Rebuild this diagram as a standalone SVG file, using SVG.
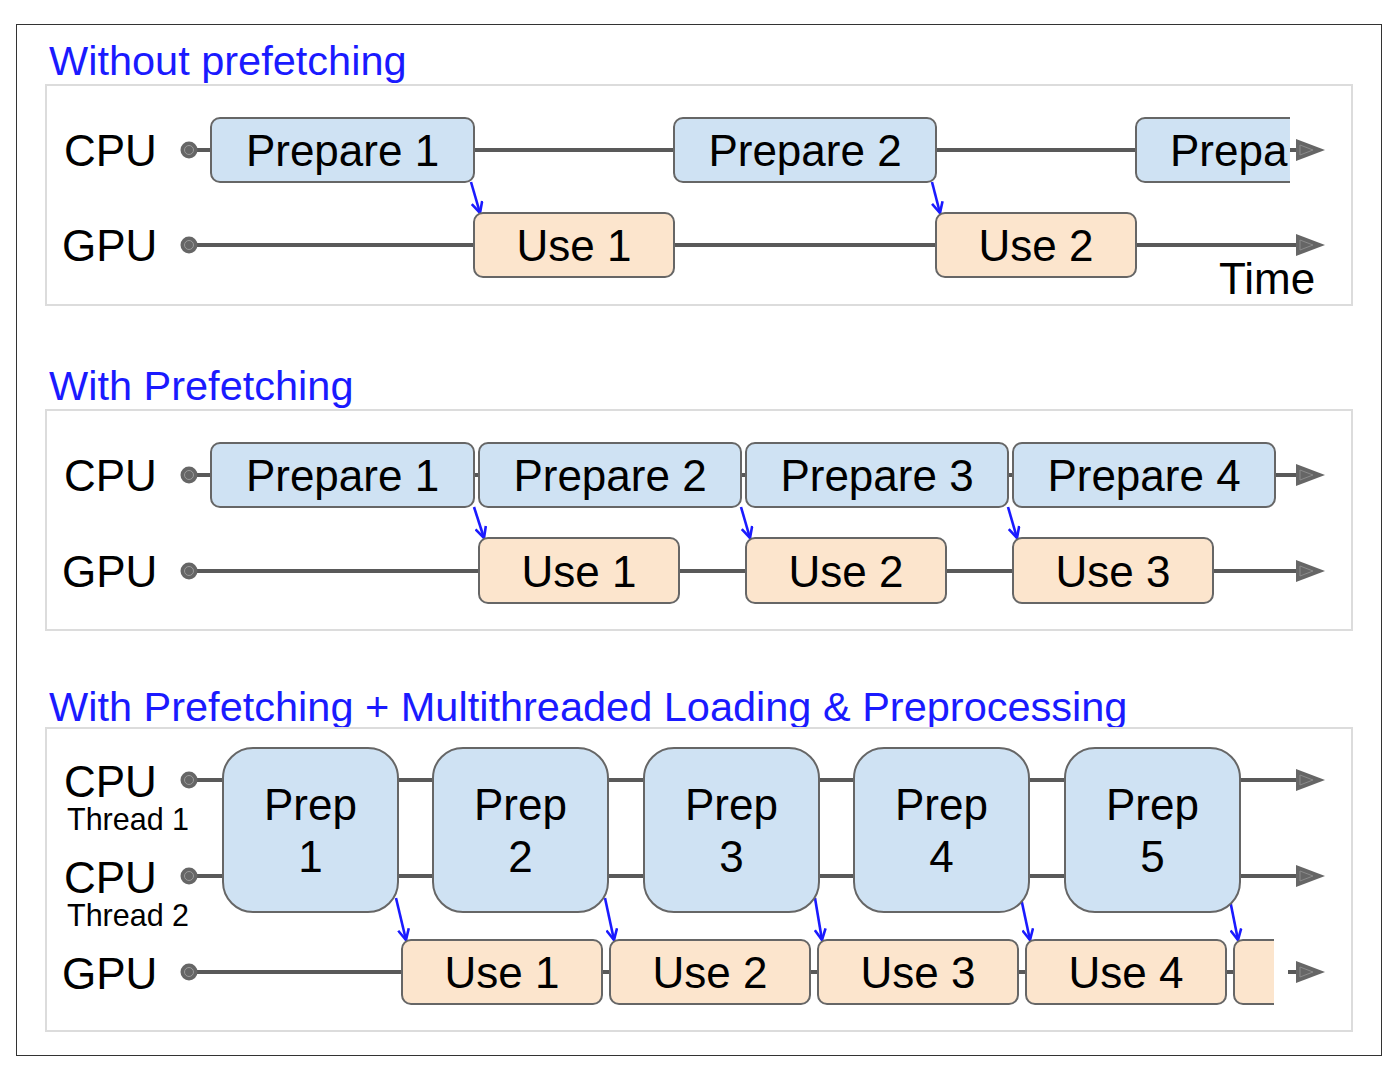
<svg xmlns="http://www.w3.org/2000/svg" width="1396" height="1068" viewBox="0 0 1396 1068">
  <style>
    .title { font-family: "Liberation Sans", Arial, sans-serif; font-size: 41.5px; fill: #1a1aff; }
    .lbl { font-family: "Liberation Sans", Arial, sans-serif; font-size: 44px; fill: #000; }
    .sub { font-family: "Liberation Sans", Arial, sans-serif; font-size: 30.5px; fill: #000; }
    .box-t { font-family: "Liberation Sans", Arial, sans-serif; font-size: 44px; fill: #000; text-anchor: middle; }
    .panel { fill: #fff; stroke: #dcdcdc; stroke-width: 2; }
    .prep { fill: #cfe2f3; stroke: #666; stroke-width: 2; }
    .use { fill: #fce5cd; stroke: #666; stroke-width: 2; }
    .edge { fill: none; stroke: #666; stroke-width: 2; }
    .tl { stroke: #595959; stroke-width: 4; fill: none; }
    .dep { stroke: #1a1aff; stroke-width: 2.6; fill: none; marker-end: url(#dep-head); }
  </style>
  <defs>
    <marker id="dep-head" viewBox="0 0 12 12" refX="11" refY="6" markerWidth="13" markerHeight="13" markerUnits="userSpaceOnUse" orient="auto">
      <path d="M1,1 L11,6 L1,11" fill="none" stroke="#1a1aff" stroke-width="2.4"/>
    </marker>
    <g id="start-dot">
      <circle r="8.5" fill="#666"/>
      <circle r="4.5" fill="none" stroke="#9a9a9a" stroke-width="1"/>
    </g>
    <g id="time-head">
      <polygon points="-29,-11 0,0 -29,11" fill="#666"/>
      <polygon points="-25,-5 -12,0 -25,5" fill="none" stroke="#8a8a8a" stroke-width="1"/>
    </g>
  </defs>

  <rect x="0" y="0" width="1396" height="1068" fill="#fff"/>
  <rect x="16.5" y="24.5" width="1365" height="1031" fill="#fff" stroke="#333" stroke-width="1"/>

  <!-- Section 1: without prefetching -->
  <text class="title" x="49" y="75">Without prefetching</text>
  <rect class="panel" x="46" y="85" width="1306" height="220"/>
  <text class="lbl" x="64" y="166">CPU</text>
  <text class="lbl" x="62" y="261">GPU</text>
  <text class="lbl" x="1219" y="294">Time</text>

  <g id="s1-connectors">
    <line class="tl" x1="189" y1="150" x2="212" y2="150"/>
    <line class="tl" x1="474" y1="150" x2="674" y2="150"/>
    <line class="tl" x1="936" y1="150" x2="1136" y2="150"/>
    <line class="tl" x1="1290" y1="150" x2="1300" y2="150"/>
    <line class="tl" x1="189" y1="245" x2="474" y2="245"/>
    <line class="tl" x1="674" y1="245" x2="936" y2="245"/>
    <line class="tl" x1="1136" y1="245" x2="1300" y2="245"/>
    <use href="#start-dot" x="189" y="150"/>
    <use href="#start-dot" x="189" y="245"/>
    <use href="#time-head" x="1325" y="150"/>
    <use href="#time-head" x="1325" y="245"/>
    <line class="dep" x1="471" y1="182" x2="480" y2="213"/>
    <line class="dep" x1="932" y1="182" x2="940" y2="213"/>
  </g>
  <g id="s1-prepare-1">
    <rect class="prep" x="211" y="118" width="263" height="64" rx="9"/>
    <text class="box-t" x="342.5" y="166">Prepare 1</text>
  </g>
  <g id="s1-prepare-2">
    <rect class="prep" x="674" y="118" width="262" height="64" rx="9"/>
    <text class="box-t" x="805" y="166">Prepare 2</text>
  </g>
  <g id="s1-prepare-3">
    <path d="M1290,118 V182 H1145 A9,9 0 0 1 1136,173 V127 A9,9 0 0 1 1145,118 Z" fill="#cfe2f3"/>
    <path class="edge" d="M1290,118 H1145 A9,9 0 0 0 1136,127 V173 A9,9 0 0 0 1145,182 H1290"/>
    <text class="lbl" x="1170" y="166">Prepa</text>
  </g>
  <g id="s1-use-1">
    <rect class="use" x="474" y="213" width="200" height="64" rx="9"/>
    <text class="box-t" x="574" y="261">Use 1</text>
  </g>
  <g id="s1-use-2">
    <rect class="use" x="936" y="213" width="200" height="64" rx="9"/>
    <text class="box-t" x="1036" y="261">Use 2</text>
  </g>

  <!-- Section 2: with prefetching -->
  <text class="title" x="49" y="400">With Prefetching</text>
  <rect class="panel" x="46" y="410" width="1306" height="220"/>
  <text class="lbl" x="64" y="491">CPU</text>
  <text class="lbl" x="62" y="587">GPU</text>

  <g id="s2-connectors">
    <line class="tl" x1="189" y1="475" x2="212" y2="475"/>
    <line class="tl" x1="474" y1="475" x2="479" y2="475"/>
    <line class="tl" x1="741" y1="475" x2="746" y2="475"/>
    <line class="tl" x1="1008" y1="475" x2="1013" y2="475"/>
    <line class="tl" x1="1275" y1="475" x2="1300" y2="475"/>
    <line class="tl" x1="189" y1="571" x2="479" y2="571"/>
    <line class="tl" x1="679" y1="571" x2="746" y2="571"/>
    <line class="tl" x1="946" y1="571" x2="1013" y2="571"/>
    <line class="tl" x1="1213" y1="571" x2="1300" y2="571"/>
    <use href="#start-dot" x="189" y="475"/>
    <use href="#start-dot" x="189" y="571"/>
    <use href="#time-head" x="1325" y="475"/>
    <use href="#time-head" x="1325" y="571"/>
    <line class="dep" x1="474" y1="507" x2="484" y2="538"/>
    <line class="dep" x1="741" y1="507" x2="750" y2="538"/>
    <line class="dep" x1="1008" y1="507" x2="1017" y2="538"/>
  </g>
  <g id="s2-prepare-1">
    <rect class="prep" x="211" y="443" width="263" height="64" rx="9"/>
    <text class="box-t" x="342.5" y="491">Prepare 1</text>
  </g>
  <g id="s2-prepare-2">
    <rect class="prep" x="479" y="443" width="262" height="64" rx="9"/>
    <text class="box-t" x="610" y="491">Prepare 2</text>
  </g>
  <g id="s2-prepare-3">
    <rect class="prep" x="746" y="443" width="262" height="64" rx="9"/>
    <text class="box-t" x="877" y="491">Prepare 3</text>
  </g>
  <g id="s2-prepare-4">
    <rect class="prep" x="1013" y="443" width="262" height="64" rx="9"/>
    <text class="box-t" x="1144" y="491">Prepare 4</text>
  </g>
  <g id="s2-use-1">
    <rect class="use" x="479" y="538" width="200" height="65" rx="9"/>
    <text class="box-t" x="579" y="587">Use 1</text>
  </g>
  <g id="s2-use-2">
    <rect class="use" x="746" y="538" width="200" height="65" rx="9"/>
    <text class="box-t" x="846" y="587">Use 2</text>
  </g>
  <g id="s2-use-3">
    <rect class="use" x="1013" y="538" width="200" height="65" rx="9"/>
    <text class="box-t" x="1113" y="587">Use 3</text>
  </g>

  <!-- Section 3: prefetching + multithreaded loading -->
  <text class="title" x="49" y="721">With Prefetching + Multithreaded Loading &amp; Preprocessing</text>
  <rect class="panel" x="46" y="728" width="1306" height="303"/>
  <text class="lbl" x="64" y="797">CPU</text>
  <text class="sub" x="67" y="830">Thread 1</text>
  <text class="lbl" x="64" y="893">CPU</text>
  <text class="sub" x="67" y="926">Thread 2</text>
  <text class="lbl" x="62" y="989">GPU</text>

  <g id="s3-connectors">
    <line class="tl" x1="189" y1="780" x2="224" y2="780"/>
    <line class="tl" x1="398" y1="780" x2="433" y2="780"/>
    <line class="tl" x1="608" y1="780" x2="644" y2="780"/>
    <line class="tl" x1="819" y1="780" x2="854" y2="780"/>
    <line class="tl" x1="1029" y1="780" x2="1065" y2="780"/>
    <line class="tl" x1="1240" y1="780" x2="1300" y2="780"/>
    <line class="tl" x1="189" y1="876" x2="224" y2="876"/>
    <line class="tl" x1="398" y1="876" x2="433" y2="876"/>
    <line class="tl" x1="608" y1="876" x2="644" y2="876"/>
    <line class="tl" x1="819" y1="876" x2="854" y2="876"/>
    <line class="tl" x1="1029" y1="876" x2="1065" y2="876"/>
    <line class="tl" x1="1240" y1="876" x2="1300" y2="876"/>
    <line class="tl" x1="189" y1="972" x2="402" y2="972"/>
    <line class="tl" x1="602" y1="972" x2="610" y2="972"/>
    <line class="tl" x1="810" y1="972" x2="818" y2="972"/>
    <line class="tl" x1="1018" y1="972" x2="1026" y2="972"/>
    <line class="tl" x1="1226" y1="972" x2="1234" y2="972"/>
    <line class="tl" x1="1288" y1="972" x2="1300" y2="972"/>
    <use href="#start-dot" x="189" y="780"/>
    <use href="#start-dot" x="189" y="876"/>
    <use href="#start-dot" x="189" y="972"/>
    <use href="#time-head" x="1325" y="780"/>
    <use href="#time-head" x="1325" y="876"/>
    <use href="#time-head" x="1325" y="972"/>
    <line class="dep" x1="396" y1="898" x2="406" y2="940"/>
    <line class="dep" x1="605" y1="898" x2="614" y2="940"/>
    <line class="dep" x1="815" y1="898" x2="822" y2="940"/>
    <line class="dep" x1="1021" y1="898" x2="1030" y2="940"/>
    <line class="dep" x1="1230" y1="900" x2="1238" y2="940"/>
  </g>
  <g id="s3-prep-1">
    <rect class="prep" x="223" y="748" width="175" height="164" rx="30"/>
    <text class="box-t" x="310.5" y="820">Prep</text>
    <text class="box-t" x="310.5" y="872">1</text>
  </g>
  <g id="s3-prep-2">
    <rect class="prep" x="433" y="748" width="175" height="164" rx="30"/>
    <text class="box-t" x="520.5" y="820">Prep</text>
    <text class="box-t" x="520.5" y="872">2</text>
  </g>
  <g id="s3-prep-3">
    <rect class="prep" x="644" y="748" width="175" height="164" rx="30"/>
    <text class="box-t" x="731.5" y="820">Prep</text>
    <text class="box-t" x="731.5" y="872">3</text>
  </g>
  <g id="s3-prep-4">
    <rect class="prep" x="854" y="748" width="175" height="164" rx="30"/>
    <text class="box-t" x="941.5" y="820">Prep</text>
    <text class="box-t" x="941.5" y="872">4</text>
  </g>
  <g id="s3-prep-5">
    <rect class="prep" x="1065" y="748" width="175" height="164" rx="30"/>
    <text class="box-t" x="1152.5" y="820">Prep</text>
    <text class="box-t" x="1152.5" y="872">5</text>
  </g>
  <g id="s3-use-1">
    <rect class="use" x="402" y="940" width="200" height="64" rx="9"/>
    <text class="box-t" x="502" y="988">Use 1</text>
  </g>
  <g id="s3-use-2">
    <rect class="use" x="610" y="940" width="200" height="64" rx="9"/>
    <text class="box-t" x="710" y="988">Use 2</text>
  </g>
  <g id="s3-use-3">
    <rect class="use" x="818" y="940" width="200" height="64" rx="9"/>
    <text class="box-t" x="918" y="988">Use 3</text>
  </g>
  <g id="s3-use-4">
    <rect class="use" x="1026" y="940" width="200" height="64" rx="9"/>
    <text class="box-t" x="1126" y="988">Use 4</text>
  </g>
  <g id="s3-use-5">
    <path d="M1274,940 V1004 H1243 A9,9 0 0 1 1234,995 V949 A9,9 0 0 1 1243,940 Z" fill="#fce5cd"/>
    <path class="edge" d="M1274,940 H1243 A9,9 0 0 0 1234,949 V995 A9,9 0 0 0 1243,1004 H1274"/>
  </g>
</svg>
